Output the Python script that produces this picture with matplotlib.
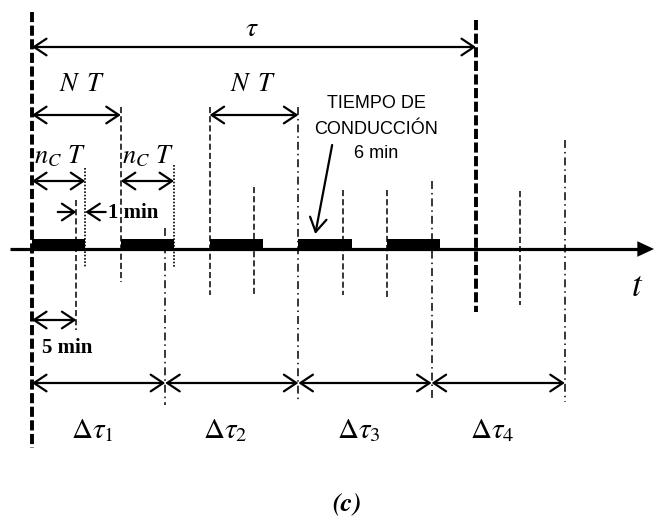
import matplotlib
matplotlib.use('Agg')
import matplotlib.pyplot as plt
from matplotlib.patches import FancyArrowPatch, Rectangle

plt.rcParams['mathtext.fontset'] = 'stix'

# data (minutes)
bar_starts = [0, 10, 20, 30, 40]      # conduction blocks
bar_length = 6                         # tiempo de conduccion
tau = 50                               # total period
N_T = 10                               # N T
nc_T = 6                               # n_C T
delta_edges = [0, 15, 30, 45, 60]      # delta tau limits
delta_labels = [r'$\Delta\tau_1$', r'$\Delta\tau_2$', r'$\Delta\tau_3$', r'$\Delta\tau_4$']
note_lines = ['TIEMPO DE', 'CONDUCCIÓN', '6 min']

# vertical marker lines: (time, top px, bottom px)
thin_dashed = [(5, 200, 330), (10, 107, 282), (20, 107, 295), (25, 187, 295),
               (35, 190, 295), (40, 190, 297), (55, 191, 305)]
dash_dot = [(15, 228, 405), (30, 107, 403), (45, 181, 400), (60, 140, 402)]
dotted = [(6, 168, 267), (16, 165, 268)]
thick = [(0, 12, 448), (50, 20, 312)]

X0 = 32.0          # pixel of t = 0
PPM = 8.88         # pixels per minute
AXIS_Y = 249

fig = plt.figure(figsize=(6.54, 5.17), dpi=100)
ax = fig.add_axes([0, 0, 1, 1])
ax.set_xlim(-X0 / PPM, (654 - X0) / PPM)
ax.set_ylim(517, 0)
ax.axis('off')


def px(x):
    return (x - X0) / PPM


def darrow(x1, x2, y, style='<->'):
    a = FancyArrowPatch((x1, y), (x2, y), arrowstyle=style + ',head_length=0.45,head_width=0.3',
                        mutation_scale=20, lw=1.6, color='k', shrinkA=0, shrinkB=0)
    ax.add_patch(a)


# time axis
ax.plot([px(10), px(645)], [AXIS_Y, AXIS_Y], color='k', lw=2.3, solid_capstyle='butt')
ax.add_patch(FancyArrowPatch((px(620), AXIS_Y), (px(654), AXIS_Y),
                             arrowstyle='-|>,head_length=0.6,head_width=0.28', mutation_scale=20,
                             lw=0, color='k', shrinkA=0, shrinkB=0))

# conduction bars
for s in bar_starts:
    ax.add_patch(Rectangle((s, AXIS_Y - 10), bar_length, 10, color='k', lw=0))

# vertical lines
for t, y0, y1 in thick:
    ax.plot([t, t], [y0, y1], color='k', lw=2.8, dashes=(2.6, 0.9))
for t, y0, y1 in thin_dashed:
    ax.plot([t, t], [y0, y1], color='k', lw=1.1, dashes=(4, 2))
for t, y0, y1 in dash_dot:
    ax.plot([t, t], [y0, y1], color='k', lw=1.1, dashes=(5.2, 2.6, 1, 2.6))
for t, y0, y1 in dotted:
    ax.plot([t, t], [y0, y1], color='k', lw=1.2, dashes=(1, 1))

# tau
darrow(0, tau, 47)
ax.text(tau / 2 - 0.2, 28, r'$\tau$', fontsize=20, ha='center', va='center')

# N T
darrow(0, N_T, 115)
ax.text(N_T / 2 + 0.7, 84, r'$N\ \,T$', fontsize=19, ha='center', va='center')
darrow(20, 20 + N_T, 115)
ax.text(20 + N_T / 2 - 0.1, 84, r'$N\ \,T$', fontsize=19, ha='center', va='center')

# n_C T
for s in [0, 10]:
    darrow(s, s + nc_T, 181)
    ax.text(s + nc_T / 2 + 0.1, 156, r'$n_C\ T$', fontsize=19, ha='center', va='center')

# 1 min
darrow(2.9, 5, 212, style='->')
darrow(6, 8.3, 212, style='<-')
ax.text(8.6, 213, '1 min', fontsize=15, fontweight='bold', family='Liberation Serif',
        ha='left', va='center')

# 5 min
darrow(0, 5, 320)
ax.text(1.1, 348, '5 min', fontsize=15, fontweight='bold', family='Liberation Serif',
        ha='left', va='center')

# delta tau
for i in range(4):
    darrow(delta_edges[i], delta_edges[i + 1], 383)
    ax.text((delta_edges[i] + delta_edges[i + 1]) / 2 - 0.7, 430, delta_labels[i], fontsize=21,
            ha='center', va='center')

# conduction annotation
for k, line in enumerate(note_lines):
    ax.text(38.8, 104 + 25 * k, line, fontsize=13, ha='center', va='center',
            family='Liberation Sans')
ax.add_patch(FancyArrowPatch((33.8, 145), (31.9, 234), arrowstyle='->,head_length=0.5,head_width=0.3',
                             mutation_scale=20, lw=1.6, color='k', shrinkA=0, shrinkB=0))

# t label
ax.text(68.1, 286, r'$t$', fontsize=25, ha='center', va='center')

# (c)
ax.text(35.5, 505, '(c)', fontsize=19, fontweight='bold', style='italic', family='STIXGeneral',
        ha='center', va='center')

fig.savefig('out.png', dpi=100)
